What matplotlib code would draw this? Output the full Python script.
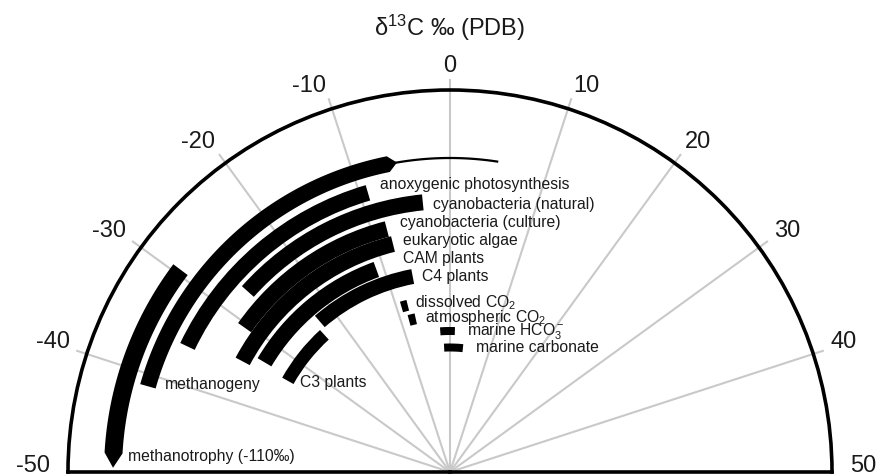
import numpy as np
import matplotlib
matplotlib.use("Agg")
import matplotlib.pyplot as plt

plt.rcParams['font.family'] = ['Liberation Sans', 'DejaVu Sans']
plt.rcParams['mathtext.fontset'] = 'custom'
plt.rcParams['mathtext.rm'] = 'Liberation Sans'
plt.rcParams['mathtext.it'] = 'Liberation Sans:italic'
plt.rcParams['mathtext.default'] = 'regular'

# ---------------- data (delta13C, per mil PDB) ----------------
groups = ["methanotrophy (-110‰)", "methanogeny", "anoxygenic photosynthesis",
          "cyanobacteria (natural)", "cyanobacteria (culture)", "eukaryotic algae",
          "CAM plants", "C4 plants", "C3 plants", "dissolved CO$_2$",
          "atmospheric CO$_2$", "marine HCO$_3^-$", "marine carbonate"]
d13c_low = [-49.6, -41.2, -35.8, -26.8, -30.5, -34.4, -33.0, -22.7, -33.7,
            -9.1, -8.4, -2.2, -1.5]
d13c_high = [-29.5, -6.3, -9.1, -3.2, -8.1, -7.8, -11.1, -6.0, -23.6,
             -7.9, -7.0, 1.1, 3.3]
methanotrophy_taper_start = -48.2   # full width ends, tapers to tip at low value
methanogeny_taper_end = -5.4        # band narrows into a thin line here
methanogeny_tail_end = 4.8          # thin line extends to here
tick_values = [-50, -40, -30, -20, -10, 0, 10, 20, 30, 40, 50]

# ---------------- layout ----------------
W, H = 883, 476
CX, CY, R = 450, 472, 382
track_r = [337, 314, 291, 271, 251, 235, 215.5, 199, 186, 172, 157, 141, 124.5]
track_w = [18, 16, 16, 16, 16, 16, 16, 15, 13, 11, 11, 8, 8]
label_px = [(128, 457), (165, 385), (380, 185), (433, 205), (400, 223),
            (403, 241), (403, 259), (422, 277), (300, 383), (415, 303),
            (425, 318), (467, 332), (476, 348)]


def th(v):
    return np.deg2rad(np.asarray(v, dtype=float) * 1.8)


fig = plt.figure(figsize=(W / 100, H / 100), dpi=100)
# matplotlib squares the wedge box: the half disk's centre sits R/2 above
# the bottom of a square polar axes
ax = fig.add_axes([(CX - R) / W, (H - CY - R / 2) / H, 2 * R / W, 2 * R / H],
                  projection='polar')
ax.set_theta_zero_location('N')
ax.set_theta_direction(-1)
ax.set_thetamin(-90)
ax.set_thetamax(90)
ax.set_rlim(0, R)
ax.grid(False)
ax.set_xticks([])
ax.set_yticks([])
ax.patch.set_visible(False)
for s in ('polar', 'start', 'end'):
    ax.spines[s].set_linewidth(2.6)
    ax.spines[s].set_color('black')
ax.spines['inner'].set_visible(False)

# gray radial guide lines and tick labels
for v in tick_values:
    if abs(v) < 50:
        ax.plot([th(v), th(v)], [0, 393], color='#c9c9c9', lw=1.5,
                zorder=0, clip_on=False, solid_capstyle='butt')
    ha = 'center' if v == 0 else ('right' if v < 0 else 'left')
    ax.text(th(v), 400, str(v), ha=ha, va='baseline', fontsize=17,
            color='#1a1a1a', clip_on=False)

# bands
for i, name in enumerate(groups):
    lo, hi = d13c_low[i], d13c_high[i]
    r, w = track_r[i], track_w[i]
    if i == 0:
        t = np.linspace(methanotrophy_taper_start, hi, 200)
        ths = np.concatenate([th(t[::-1]), th([lo]), th(t)])
        rs = np.concatenate([np.full(t.size, r + w / 2), [r],
                             np.full(t.size, r - w / 2)])
        ax.fill(ths, rs, color='black', lw=0, zorder=2)
    elif i == 1:
        t = np.linspace(lo, hi, 300)
        ths = np.concatenate([th(t), th([methanogeny_taper_end]), th(t[::-1])])
        rs = np.concatenate([np.full(t.size, r + w / 2), [r],
                             np.full(t.size, r - w / 2)])
        ax.fill(ths, rs, color='black', lw=0, zorder=2)
        tt = np.linspace(hi, methanogeny_tail_end, 100)
        ax.plot(th(tt), np.full(tt.size, r), color='black', lw=1.6, zorder=2)
    else:
        ax.bar(th((lo + hi) / 2), w, width=th(hi) - th(lo), bottom=r - w / 2,
               color='black', lw=0, zorder=2)
    lx, ly = label_px[i]
    fig.text(lx / W, 1 - (ly + 4) / H, name, ha='left', va='baseline',
             fontsize=11.3, color='#1a1a1a')

fig.text(CX / W, 1 - 28 / H, "δ$^{13}$C ‰ (PDB)", ha='center', va='center',
         fontsize=17, color='#1a1a1a')

fig.savefig("out.png", dpi=100, facecolor='white')
